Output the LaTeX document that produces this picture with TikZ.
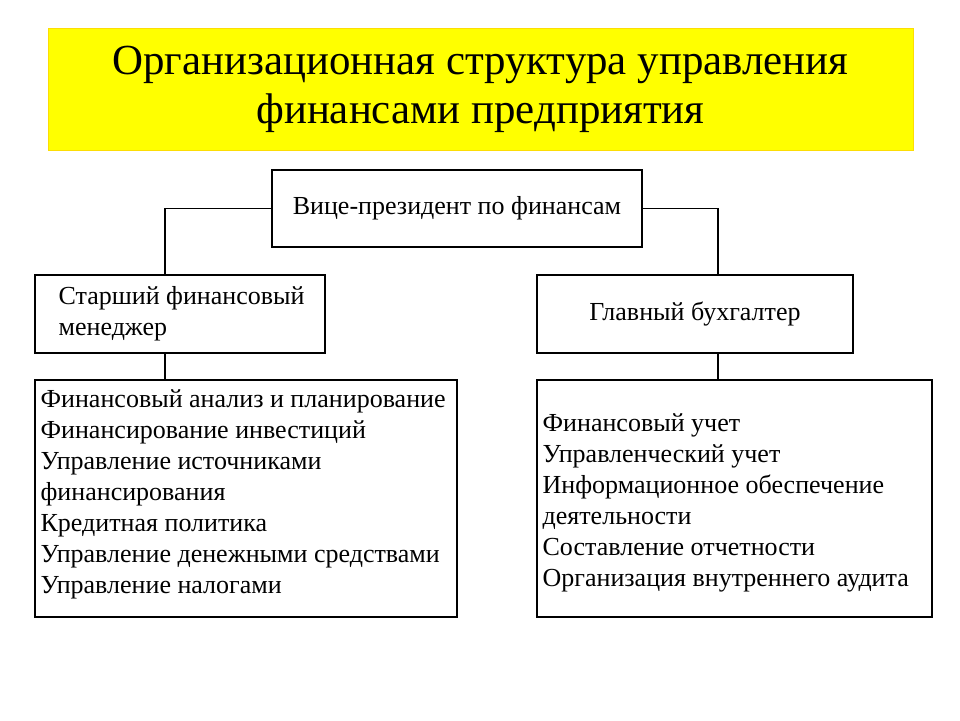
\documentclass[tikz,border=0pt]{standalone}
\usepackage{fontspec}
\setmainfont{Liberation Serif}
\definecolor{titleyellow}{rgb}{1,1,0}
\tikzset{
  box/.style={draw, thick, rectangle, inner sep=0pt},
  listbox/.style={draw, thick, rectangle, align=left, inner sep=4pt, anchor=north west, font=\fontsize{18.5}{22}\selectfont}
}
\begin{document}
\begin{tikzpicture}
	\useasboundingbox (0,0) rectangle (24,-18);
	
	\node[rectangle, fill = titleyellow, draw = yellow!80!orange, minimum width = 21.625cm, minimum height = 3.05cm, align=center, font=\fontsize{30.5}{35}\selectfont] (title) at (12.01,-2.225) {Организационная структура управления\\финансами предприятия};
	
	\node[box, minimum width = 9.25cm, minimum height = 1.925cm, font=\fontsize{18.5}{20}\selectfont] (vp) at (11.425,-5.2125) {Вице-президент по финансам};
	
	\node[box, minimum width = 7.25cm, minimum height = 1.95cm] (senior) at (4.5,-7.85) {};
	\node[listbox, draw=none, anchor=west] at ([xshift=0.45cm]senior.west) {Старший финансовый\\менеджер};
	
	\node[box, minimum width = 7.9cm, minimum height = 1.95cm, font=\fontsize{18.5}{20}\selectfont] (chief) at (17.375,-7.85) {Главный бухгалтер};
	
	\node[box, minimum width = 10.55cm, minimum height = 5.925cm] (leftlist) at (6.15,-12.4625) {};
	\node[listbox, draw=none] at ([shift={(0.0,-0.1)}]leftlist.north west) {Финансовый анализ и планирование\\Финансирование инвестиций\\Управление источниками\\финансирования\\Кредитная политика\\Управление денежными средствами\\Управление налогами};
	
	\node[box, minimum width = 9.875cm, minimum height = 5.925cm] (rightlist) at (18.3625,-12.4625) {};
	\node[listbox, draw=none] at ([shift={(0.0,-0.7)}]rightlist.north west) {Финансовый учет\\Управленческий учет\\Информационное обеспечение\\деятельности\\Составление отчетности\\Организация внутреннего аудита};
	
	\draw[thick] (vp.west) -| ([xshift=-0.375cm]senior.north);
	
	\draw[thick] (vp.east) -| ([xshift=0.575cm]chief.north);
	
	\draw[thick] ([xshift=-0.375cm]senior.south) -- ([xshift=-0.375cm]senior.south |- leftlist.north);
	
	\draw[thick] ([xshift=0.575cm]chief.south) -- ([xshift=0.575cm]chief.south |- rightlist.north);
\end{tikzpicture}
\end{document}
